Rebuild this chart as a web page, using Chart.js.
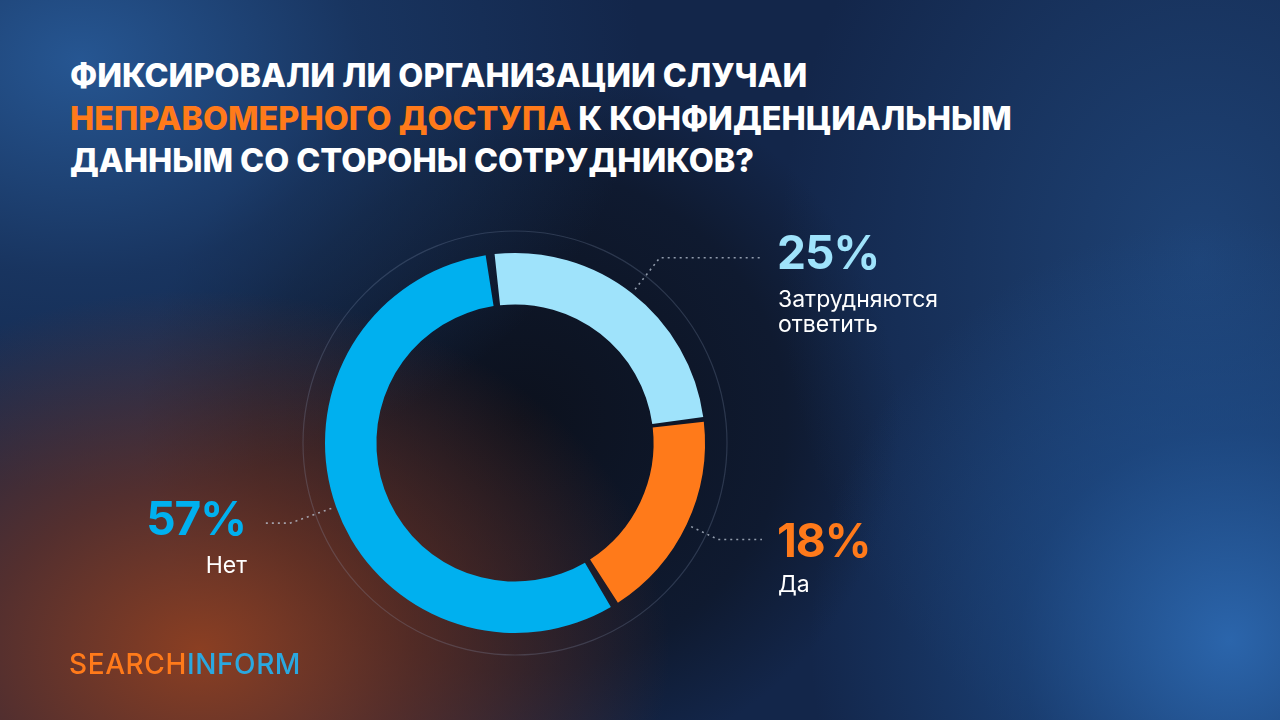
<!DOCTYPE html>
<html lang="ru">
<head>
<meta charset="utf-8">
<script src="https://cdn.jsdelivr.net/npm/chart.js@4/dist/chart.umd.min.js"></script>
<style>
  html, body { margin: 0; padding: 0; }
  body {
    width: 1280px; height: 720px; overflow: hidden; position: relative;
    font-family: Inter, "Noto Sans", sans-serif;
    background:
      radial-gradient(ellipse 470px 360px at 200px 650px, rgba(145,64,32,0.95), rgba(118,52,32,0.65) 45%, rgba(60,30,30,0) 100%),
      radial-gradient(ellipse 420px 420px at 1230px 640px, rgba(44,104,176,0.95), rgba(32,84,150,0.5) 50%, rgba(20,40,80,0) 100%),
      radial-gradient(ellipse 560px 430px at 80px 60px, rgba(38,86,146,1), rgba(28,62,110,0.6) 50%, rgba(20,40,80,0) 100%),
      radial-gradient(ellipse 420px 520px at 1200px 260px, rgba(32,72,126,0.85), rgba(20,40,80,0) 100%),
      radial-gradient(ellipse 380px 360px at 520px 420px, #0c111d, #0f1a30 70%, #13264a 100%);
    background-color: #13264a;
  }
  #title {
    position: absolute; left: 70px; top: 55px; margin: 0;
    color: #ffffff; font-weight: 800; font-size: 32.4px; line-height: 42.5px;
    text-transform: uppercase;
  }
  #title .hl { color: #ff7a1a; }
  #chartbox { position: absolute; left: 0; top: 0; width: 1280px; height: 720px; }
  .val { position: absolute; font-weight: 700; font-size: 46px; line-height: 50px; letter-spacing: -1px; }
  .cat { position: absolute; color: #ffffff; font-size: 23px; line-height: 25px; font-weight: 400; }
  #logo { position: absolute; left: 69px; top: 648px; font-size: 28px; font-weight: 500; letter-spacing: 0.6px; line-height: 32px; }
</style>
</head>
<body>
<h1 id="title">Фиксировали ли организации случаи<br><span class="hl">неправомерного доступа</span> к конфиденциальным<br>данным со стороны сотрудников?</h1>
<div id="chartbox"><canvas id="donut" width="1280" height="720"></canvas></div>
<div class="val" id="v0" style="left:777px; top:227px; color:#9fe3fb;"></div>
<div class="cat" id="c0" style="left:778px; top:287px;"></div>
<div class="val" id="v1" style="left:777px; top:515px; color:#ff7a1a;"></div>
<div class="cat" id="c1" style="left:778px; top:572px;"></div>
<div class="val" id="v2" style="right:1034px; top:493px; color:#00b0ef; text-align:right;"></div>
<div class="cat" id="c2" style="right:1033px; top:553px; text-align:right;"></div>
<div id="logo"><span style="color:#ff7a1a">SEARCH</span><span style="color:#2aa8e0">INFORM</span></div>
<script>
// answers, clockwise from the top
const answers = ['Затрудняются<br>ответить', 'Да', 'Нет']
const shares = [25, 18, 57]
const colors = ['#9fe3fb', '#ff7a1a', '#00b0ef']

answers.forEach((a, i) => {
    document.getElementById('v' + i).textContent = shares[i] + '%'
    document.getElementById('c' + i).innerHTML = a
})

// thin ring behind the donut and dotted leader lines from each slice
const leaders = {
    id: 'leaders',
    beforeDatasetsDraw(chart) {
        const arc = chart.getDatasetMeta(0).data[0]
        const c = chart.ctx
        c.save()
        c.strokeStyle = 'rgba(150,170,200,0.22)'
        c.lineWidth = 1.2
        c.beginPath()
        c.arc(arc.x, arc.y, arc.outerRadius + 25, 0, Math.PI * 2)
        c.stroke()
        c.restore()
    },
    afterDatasetsDraw(chart) {
        const meta = chart.getDatasetMeta(0)
        const c = chart.ctx
        const ends = [762, 762, 262]
        const elbows = [48, 38, 52]
        c.save()
        c.strokeStyle = 'rgba(190,200,215,0.75)'
        c.lineWidth = 1.6
        c.setLineDash([2, 4])
        meta.data.forEach((el, i) => {
            const mid = (el.startAngle + el.endAngle) / 2
            const r0 = el.outerRadius + 8
            const r1 = el.outerRadius + elbows[i]
            const x0 = el.x + Math.cos(mid) * r0, y0 = el.y + Math.sin(mid) * r0
            const x1 = el.x + Math.cos(mid) * r1, y1 = el.y + Math.sin(mid) * r1
            c.beginPath()
            c.moveTo(x0, y0)
            c.lineTo(x1, y1)
            c.lineTo(ends[i], y1)
            c.stroke()
        })
        c.restore()
    }
}

const ctx = document.getElementById('donut').getContext('2d')
const donut_chart = new Chart(ctx, {
    type: 'doughnut',
    data: {
        labels: answers,
        datasets: [{
            data: shares,
            backgroundColor: colors,
            borderWidth: 0,
            spacing: 6
        }]
    },
    options: {
        responsive: false,
        animation: false,
        rotation: -7,
        cutout: '72.5%',
        layout: { padding: { left: 325, right: 575, top: 253, bottom: 87 } },
        plugins: { legend: { display: false }, tooltip: { enabled: false } }
    },
    plugins: [leaders]
})
</script>
</body>
</html>
